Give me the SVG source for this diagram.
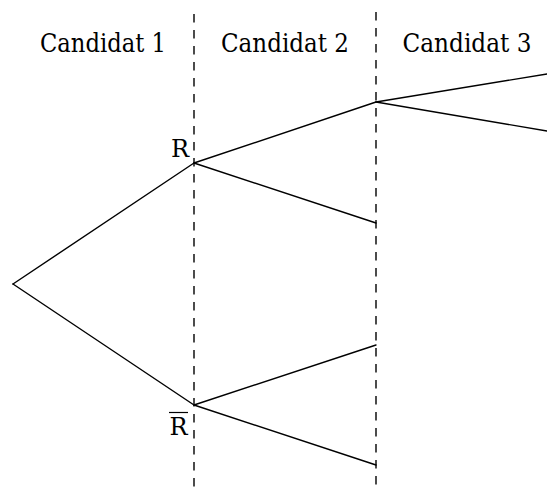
<svg xmlns="http://www.w3.org/2000/svg" width="547" height="491" viewBox="0 0 547 491">
<style>
.lbl{font-family:'DejaVu Serif',serif;font-size:26px;fill:#000;text-anchor:middle}
.nd{font-family:'DejaVu Serif',serif;font-size:24px;fill:#000;text-anchor:middle}
.br{stroke:#000;stroke-width:1.4;fill:none;stroke-linecap:round}
.sep{stroke:#000;stroke-width:1.4;stroke-dasharray:8.5 7.5;fill:none}
</style>
<rect width="547" height="491" fill="#fff"/>
<g id="separators">
<line class="sep" x1="194" y1="14" x2="194" y2="491"/>
<line class="sep" x1="376" y1="12" x2="376" y2="491"/>
</g>
<g id="headers">
<text class="lbl" x="103" y="52" textLength="126" lengthAdjust="spacingAndGlyphs">Candidat 1</text>
<text class="lbl" x="285" y="52" textLength="128" lengthAdjust="spacingAndGlyphs">Candidat 2</text>
<text class="lbl" x="467" y="52" textLength="129" lengthAdjust="spacingAndGlyphs">Candidat 3</text>
</g>
<g id="connectors">
<line class="br" x1="13" y1="284" x2="194" y2="163"/>
<line class="br" x1="13" y1="284" x2="194" y2="405"/>
<line class="br" x1="194" y1="163" x2="376" y2="102"/>
<line class="br" x1="194" y1="163" x2="376" y2="223"/>
<line class="br" x1="194" y1="405" x2="376" y2="345"/>
<line class="br" x1="194" y1="405" x2="376" y2="465"/>
<line class="br" x1="376" y1="102" x2="547" y2="74"/>
<line class="br" x1="376" y1="102" x2="547" y2="131"/>
</g>
<g id="node-R">
<text class="nd" x="180" y="157">R</text>
</g>
<g id="node-Rbar">
<text class="nd" x="178.5" y="435">R</text>
<line x1="169" y1="412.5" x2="188" y2="412.5" stroke="#000" stroke-width="1.2"/>
</g>
</svg>
